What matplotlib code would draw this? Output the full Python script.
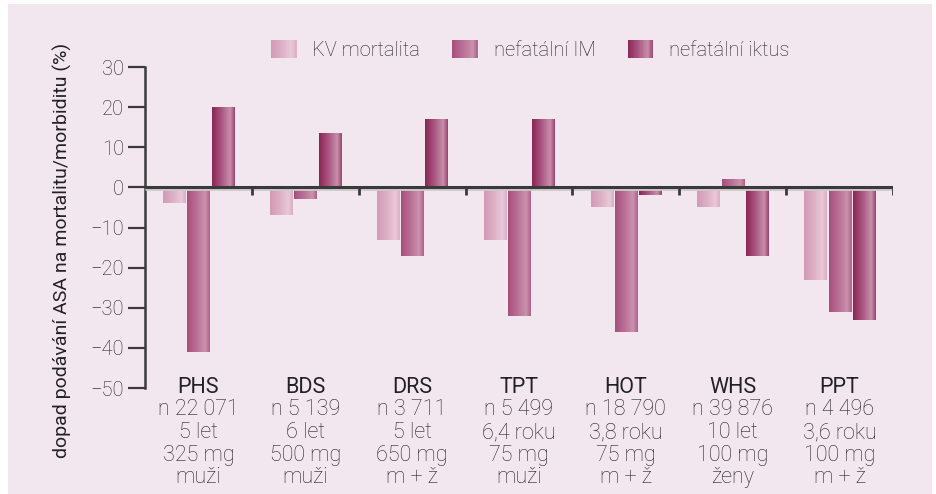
import numpy as np
import matplotlib
matplotlib.use("Agg")
import matplotlib.pyplot as plt
from matplotlib.patches import Rectangle
from matplotlib.colors import LinearSegmentedColormap
from matplotlib.legend_handler import HandlerBase

# ---------- data ----------
studies = ["PHS", "BDS", "DRS", "TPT", "HOT", "WHS", "PPT"]
n_info = ["n 22 071", "n 5 139", "n 3 711", "n 5 499", "n 18 790", "n 39 876", "n 4 496"]
duration = ["5 let", "6 let", "5 let", "6,4 roku", "3,8 roku", "10 let", "3,6 roku"]
dose = ["325 mg", "500 mg", "650 mg", "75 mg", "75 mg", "100 mg", "100 mg"]
sex = ["muži", "muži", "m + ž", "muži", "m + ž", "ženy", "m + ž"]

series = ["KV mortalita", "nefatální IM", "nefatální iktus"]
kv_mort = [-4, -7, -13, -13, -5, -5, -23]
nef_im = [-41, -3, -17, -32, -36, 2, -31]
nef_iktus = [20, 13.5, 17, 17, -2, -17, -33]
values = [kv_mort, nef_im, nef_iktus]

yticks = [30, 20, 10, 0, -10, -20, -30, -40, -50]

# ---------- styles ----------
BG = "#f2e7ee"
TXT = "#222222"
grad_colors = [
    ["#d49ab6", "#dcaec4", "#e9c9d8", "#dcafc4"],
    ["#a84f7c", "#b86f94", "#c992ad", "#b0628a"],
    ["#8a2656", "#a85580", "#c790ab", "#9c4270"],
]
cmaps = [LinearSegmentedColormap.from_list(f"g{i}", list(zip([0, 0.4, 0.8, 1.0], c)))
         for i, c in enumerate(grad_colors)]

plt.rcParams["font.family"] = ["Roboto", "DejaVu Sans"]
plt.rcParams["font.weight"] = "light"

fig = plt.figure(figsize=(9.36, 4.94), dpi=100, facecolor="white")
fig.patches.append(Rectangle((8 / 936, 0), 924 / 936, 490 / 494, transform=fig.transFigure,
                             facecolor=BG, edgecolor="none", zorder=-10))
ax = fig.add_axes([145 / 936, 1 - 388 / 494, (893 - 145) / 936, (388 - 67) / 494])
ax.set_facecolor("none")

x = np.arange(len(studies)) + 0.5
bw = 0.206
step = 0.227
grad = np.linspace(0, 1, 64).reshape(1, -1)
for i, (vals, cm) in enumerate(zip(values, cmaps)):
    bars = ax.bar(x + (i - 1) * step, vals, width=bw, color="none", edgecolor="none", zorder=2)
    for b in bars:
        x0, y0 = b.get_x(), b.get_y()
        w, h = b.get_width(), b.get_height()
        im = ax.imshow(grad, extent=[x0, x0 + w, min(y0, y0 + h), max(y0, y0 + h)],
                       aspect="auto", cmap=cm, zorder=2, interpolation="bilinear")
        im.set_clip_path(b)

# zero line with faint shadow and group separators
ax.plot([0, len(studies)], [-0.45, -0.45], color="#cfc8cc", lw=2.0, zorder=3,
        solid_capstyle="butt")
ax.plot([0, len(studies)], [0, 0], color="#3a3a3a", lw=2.2, zorder=4, solid_capstyle="butt")
ax.vlines(np.arange(1, len(studies) + 1), -2.0, 0, color="#3a3a3a", lw=2.0, zorder=4)

ax.set_xlim(0, len(studies))
ax.set_ylim(-50, 30)
ax.set_yticks(yticks)
ax.set_yticklabels([str(t).replace("-", "\u2212") for t in yticks], fontsize=14.5, color=TXT)
ax.tick_params(axis="y", direction="out", length=12, width=1.6, color="#3a3a3a", pad=3)
ax.set_xticks([])
for s in ["top", "right", "bottom"]:
    ax.spines[s].set_visible(False)
ax.spines["left"].set_color("#3a3a3a")
ax.spines["left"].set_linewidth(1.8)
ax.set_ylabel("dopad podávání ASA na mortalitu/morbiditu (%)", fontsize=14, color=TXT,
              va="center")
ax.yaxis.set_label_coords(-0.111, 0.43)

# group labels: one text per line
line_y = [-49.8, -55.3, -61.1, -66.8, -72.4]
for xi, s, n, d, m, g in zip(x, studies, n_info, duration, dose, sex):
    ax.text(xi, line_y[0], s, ha="center", va="center", fontsize=15.5, fontweight="normal",
            color=TXT)
    for yy, line in zip(line_y[1:], [n, d, m, g]):
        ax.text(xi, yy, line, ha="center", va="center", fontsize=15.5, color=TXT)


# legend with gradient swatches
class GradHandler(HandlerBase):
    def __init__(self, cmap):
        super().__init__()
        self.cmap = cmap

    def create_artists(self, legend, orig_handle, xdescent, ydescent, width, height,
                       fontsize, trans):
        arts = []
        nstrip = 20
        for k in range(nstrip):
            r = Rectangle((-xdescent + width * k / nstrip, -ydescent - 1), width / nstrip + 0.3,
                          height + 2, facecolor=self.cmap((k + 0.5) / nstrip),
                          edgecolor="none", transform=trans)
            arts.append(r)
        return arts


handles = [Rectangle((0, 0), 1, 1) for _ in series]
leg = ax.legend(handles, series, loc="lower center", bbox_to_anchor=(0.515, 0.965), ncol=3,
                frameon=False, fontsize=14.5, handlelength=1.25, handleheight=0.75,
                columnspacing=1.6, handletextpad=0.8,
                handler_map={h: GradHandler(c) for h, c in zip(handles, cmaps)})
for t in leg.get_texts():
    t.set_color(TXT)

fig.savefig("out.png", dpi=100, facecolor="white")
